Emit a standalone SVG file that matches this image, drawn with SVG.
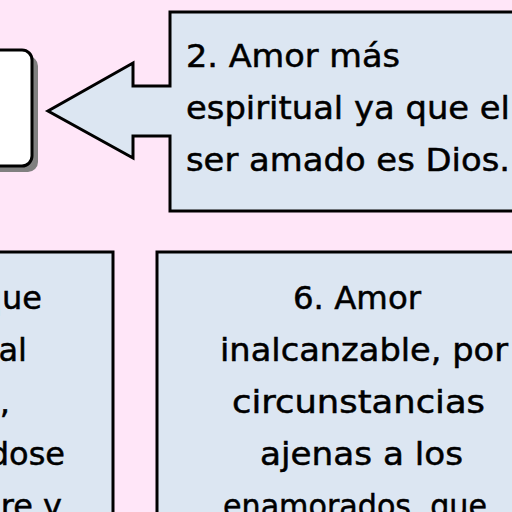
<svg xmlns="http://www.w3.org/2000/svg" width="512" height="512" viewBox="0 0 512 512">
<style>
.box{fill:#DCE6F2;stroke:#000;stroke-width:3}
.t{font-family:"DejaVu Sans","Noto Sans",sans-serif;font-size:32px;fill:#000;stroke:#000;stroke-width:0.5}
.e{text-anchor:end}
</style>
<rect x="0" y="0" width="512" height="512" fill="#FFE6F8"/>
<g id="node-white">
<rect x="-14" y="56" width="52" height="116" rx="10" fill="#808080"/>
<rect x="-20" y="50" width="52" height="116" rx="10" fill="#fff" stroke="#000" stroke-width="3"/>
</g>
<g id="connectors"></g>
<g id="node-callout">
<path class="box" d="M170,12 H520 V211 H170 V136 H133 V158 L48,111 L133,63 V86 H170 Z"/>
<text class="t" x="186" y="67" textLength="214" lengthAdjust="spacingAndGlyphs">2. Amor más</text>
<text class="t" x="186" y="119" textLength="324" lengthAdjust="spacingAndGlyphs">espiritual ya que el</text>
<text class="t" x="186" y="171" textLength="324" lengthAdjust="spacingAndGlyphs">ser amado es Dios.</text>
</g>
<g id="node-left">
<rect class="box" x="-10" y="252" width="123" height="270"/>
<text class="t e" x="42" y="309">que</text>
<text class="t e" x="27" y="361">al</text>
<text class="t e" x="10" y="413">,</text>
<text class="t e" x="65" y="465">dose</text>
<text class="t e" x="62" y="517">re y</text>
</g>
<g id="node-right">
<rect class="box" x="157" y="252" width="420" height="270"/>
<text class="t" x="293" y="309" textLength="128" lengthAdjust="spacingAndGlyphs">6. Amor</text>
<text class="t" x="220" y="361" textLength="288" lengthAdjust="spacingAndGlyphs">inalcanzable, por</text>
<text class="t" x="232" y="413" textLength="253" lengthAdjust="spacingAndGlyphs">circunstancias</text>
<text class="t" x="260" y="465" textLength="203" lengthAdjust="spacingAndGlyphs">ajenas a los</text>
<text class="t" x="223" y="517" textLength="264" lengthAdjust="spacingAndGlyphs">enamorados, que</text>
</g>
</svg>
